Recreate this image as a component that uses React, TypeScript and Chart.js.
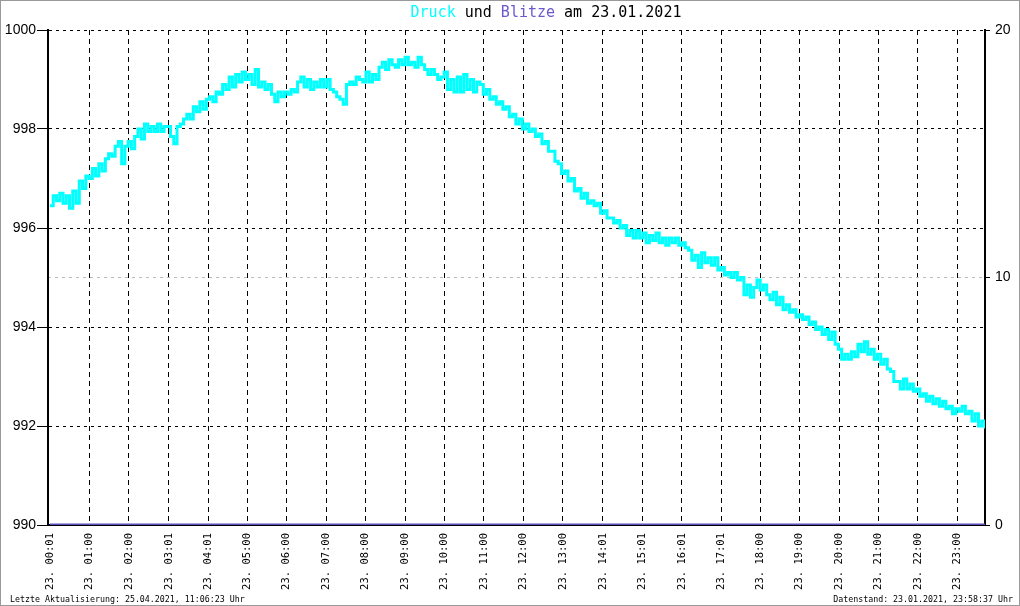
import React, { useEffect, useRef } from 'react';
import { Chart, registerables } from 'chart.js';

Chart.register(...registerables);

// Luftdruck (hPa), 5-Minuten-Werte, je Zeile eine Stunde
const druckHPa: number[] = [
  996.45, 996.65, 996.55, 996.7, 996.5, 996.65, 996.4, 996.75, 996.5, 996.95, 996.8, 997.05,
  997.0, 997.2, 997.05, 997.3, 997.15, 997.4, 997.5, 997.45, 997.65, 997.75, 997.3, 997.65,
  997.75, 997.6, 997.85, 998.0, 997.8, 998.1, 997.95, 998.05, 997.95, 998.1, 997.95, 998.05,
  998.05, 997.85, 997.7, 998.05, 998.1, 998.2, 998.3, 998.2, 998.45, 998.35, 998.55, 998.4,
  998.6, 998.65, 998.55, 998.75, 998.7, 998.9, 998.8, 999.05, 998.85, 999.1, 998.95, 999.15,
  999.0, 999.1, 998.9, 999.2, 998.85, 998.95, 998.8, 998.9, 998.7, 998.55, 998.75, 998.65,
  998.75, 998.7, 998.8, 998.75, 998.95, 999.05, 998.85, 999.0, 998.8, 998.95, 998.85, 999.0,
  998.85, 999.0, 998.8, 998.75, 998.65, 998.6, 998.5, 998.9, 998.95, 998.9, 999.05, 999.0,
  998.95, 999.15, 998.95, 999.1, 999.0, 999.25, 999.35, 999.2, 999.4, 999.3, 999.25, 999.4,
  999.3, 999.45, 999.3, 999.35, 999.25, 999.45, 999.3, 999.2, 999.1, 999.2, 999.1, 999.0,
  999.05, 999.15, 998.8, 999.0, 998.75, 999.05, 998.75, 999.1, 998.8, 999.0, 998.75, 998.95,
  998.9, 998.7, 998.8, 998.6, 998.65, 998.5, 998.55, 998.4, 998.45, 998.25, 998.3, 998.1,
  998.2, 998.0, 998.1, 997.95, 998.0, 997.85, 997.9, 997.7, 997.75, 997.55, 997.55, 997.35,
  997.3, 997.1, 997.15, 996.95, 997.0, 996.75, 996.8, 996.6, 996.7, 996.5, 996.55, 996.45,
  996.5, 996.3, 996.35, 996.2, 996.2, 996.1, 996.15, 996.0, 996.05, 995.85, 995.95, 995.8,
  995.95, 995.8, 995.9, 995.7, 995.85, 995.75, 995.9, 995.7, 995.8, 995.65, 995.8, 995.7,
  995.8, 995.65, 995.7, 995.6, 995.55, 995.35, 995.45, 995.2, 995.5, 995.3, 995.4, 995.25,
  995.4, 995.15, 995.2, 995.05, 995.1, 995.0, 995.1, 994.95, 995.0, 994.65, 994.85, 994.6,
  994.8, 994.95, 994.75, 994.85, 994.65, 994.55, 994.7, 994.45, 994.6, 994.35, 994.45, 994.3,
  994.35, 994.2, 994.25, 994.15, 994.2, 994.05, 994.1, 993.95, 994.0, 993.85, 993.95, 993.75,
  993.9, 993.65, 993.55, 993.35, 993.45, 993.35, 993.5, 993.4, 993.65, 993.5, 993.7, 993.45,
  993.55, 993.35, 993.45, 993.25, 993.35, 993.15, 993.1, 992.9, 992.9, 992.75, 992.95, 992.75,
  992.85, 992.7, 992.75, 992.6, 992.65, 992.5, 992.6, 992.45, 992.55, 992.4, 992.5, 992.35,
  992.4, 992.25, 992.35, 992.3, 992.4, 992.25, 992.3, 992.1, 992.25, 992.0, 992.1, 991.95,
];

// Blitze pro Stunde
const blitzeAnzahl: number[] = [0, 0, 0, 0, 0, 0, 0, 0, 0, 0, 0, 0, 0, 0, 0, 0, 0, 0, 0, 0, 0, 0, 0, 0, 0];

const tickMinutes: number[] = [1, 60, 120, 181, 241, 300, 360, 420, 480, 540, 600, 660, 720, 780, 841, 901, 961, 1021, 1080, 1140, 1200, 1260, 1320, 1380];
const tickLabels: string[] = [
  '23. 00:01', '23. 01:00', '23. 02:00', '23. 03:01', '23. 04:01', '23. 05:00',
  '23. 06:00', '23. 07:00', '23. 08:00', '23. 09:00', '23. 10:00', '23. 11:00',
  '23. 12:00', '23. 13:00', '23. 14:01', '23. 15:01', '23. 16:01', '23. 17:01',
  '23. 18:00', '23. 19:00', '23. 20:00', '23. 21:00', '23. 22:00', '23. 23:00',
];

const X_MIN = -3;
const X_MAX = 1422;

const titleParts = [
  { text: 'Druck', color: '#00FFFF' },
  { text: ' und ', color: '#000000' },
  { text: 'Blitze', color: '#6A5ACD' },
  { text: ' am 23.01.2021', color: '#000000' },
];
const footerLeft = 'Letzte Aktualisierung: 25.04.2021, 11:06:23 Uhr';
const footerRight = 'Datenstand: 23.01.2021, 23:58:37 Uhr';

const decorPlugin = {
  id: 'decor',
  afterDraw(chart: any) {
    const ctx = chart.ctx as CanvasRenderingContext2D;
    ctx.save();
    ctx.font = '15px "DejaVu Sans Mono"';
    ctx.textBaseline = 'middle';
    ctx.textAlign = 'left';
    const full = titleParts.map((p) => p.text).join('');
    const w = ctx.measureText(full).width;
    let x = 546 - w / 2;
    for (const p of titleParts) {
      ctx.fillStyle = p.color;
      ctx.fillText(p.text, x, 13);
      x += ctx.measureText(p.text).width;
    }
    ctx.font = '8.3px "DejaVu Sans Mono"';
    ctx.fillStyle = '#000';
    ctx.textBaseline = 'alphabetic';
    ctx.textAlign = 'left';
    ctx.fillText(footerLeft, 10, 602);
    ctx.textAlign = 'right';
    ctx.fillText(footerRight, 1013, 602);
    ctx.strokeStyle = '#999';
    ctx.lineWidth = 2;
    ctx.strokeRect(0, 0, 1020, 606);
    ctx.restore();
  },
  beforeDraw(chart: any) {
    const ctx = chart.ctx as CanvasRenderingContext2D;
    ctx.save();
    ctx.fillStyle = '#fff';
    ctx.fillRect(0, 0, chart.width, chart.height);
    ctx.restore();
  },
};

export default function App() {
  const ref = useRef<HTMLCanvasElement | null>(null);

  useEffect(() => {
    if (!ref.current) return;
    const step = X_MAX / (druckHPa.length - 1);
    const druckData = druckHPa.map((v, i) => ({ x: i * step, y: v }));
    const blitzeData = blitzeAnzahl.map((v, i) => ({ x: i * 60, y: v }));

    const chart = new Chart(ref.current, {
      type: 'line',
      data: {
        datasets: [
          {
            label: 'Druck',
            data: druckData,
            yAxisID: 'y',
            borderColor: '#00FFFF',
            borderWidth: 3,
            pointRadius: 0,
            stepped: true,
            fill: false,
          },
          {
            label: 'Blitze',
            data: blitzeData,
            yAxisID: 'y2',
            borderColor: '#5B4FC0',
            borderWidth: 3,
            pointRadius: 0,
            fill: false,
          },
        ],
      },
      options: {
        animation: false,
        responsive: false,
        devicePixelRatio: 1,
        parsing: false,
        normalized: true,
        layout: { padding: { top: 30, left: 0, right: 0, bottom: 0 } },
        plugins: {
          legend: { display: false },
          title: { display: false },
          tooltip: { enabled: false },
        },
        scales: {
          x: {
            type: 'linear',
            min: X_MIN,
            max: X_MAX,
            afterBuildTicks: (scale: any) => {
              scale.ticks = tickMinutes.map((v) => ({ value: v }));
            },
            afterFit: (scale: any) => {
              scale.height = 81;
            },
            ticks: {
              autoSkip: false,
              maxRotation: 90,
              minRotation: 90,
              padding: 8,
              color: '#000',
              font: { family: 'DejaVu Sans Mono', size: 10.5 },
              callback: (_v: any, i: number) => tickLabels[i],
            },
            grid: {
              drawTicks: false,
              lineWidth: 1,
              color: (c: any) => (c.index === 0 ? 'rgba(0,0,0,0)' : '#000'),
            },
            border: { display: true, color: '#000', width: 2, dash: [5, 4] },
          },
          y: {
            type: 'linear',
            position: 'left',
            min: 990,
            max: 1000,
            afterFit: (scale: any) => {
              scale.width = 48;
            },
            ticks: {
              stepSize: 2,
              padding: 1,
              color: '#000',
              font: { family: 'Liberation Sans', size: 14 },
              callback: (v: any) => String(v),
            },
            grid: {
              color: '#000',
              lineWidth: 1,
              tickLength: 11,
              tickColor: '#000',
              tickWidth: 1,
            },
            border: { display: true, color: '#000', width: 2, dash: [3, 4] },
          },
          y2: {
            type: 'linear',
            position: 'right',
            min: 0,
            max: 20,
            afterFit: (scale: any) => {
              scale.width = 35;
            },
            ticks: {
              stepSize: 10,
              padding: 5,
              color: '#000',
              font: { family: 'Liberation Sans', size: 14 },
              callback: (v: any) => String(v),
            },
            grid: {
              color: (c: any) => (c.tick && c.tick.value === 10 ? '#BBBBBB' : 'rgba(0,0,0,0)'),
              lineWidth: 1,
              tickLength: 5,
              tickColor: '#000',
              tickWidth: 1,
            },
            border: { display: true, color: '#000', width: 2, dash: [3, 4] },
          },
        },
      } as any,
      plugins: [decorPlugin],
    });
    return () => chart.destroy();
  }, []);

  return (
    <div style={{ position: 'absolute', left: 0, top: 0, width: 1020, height: 606 }}>
      <canvas ref={ref} width={1020} height={606} style={{ display: 'block', width: 1020, height: 606 }} />
    </div>
  );
}
